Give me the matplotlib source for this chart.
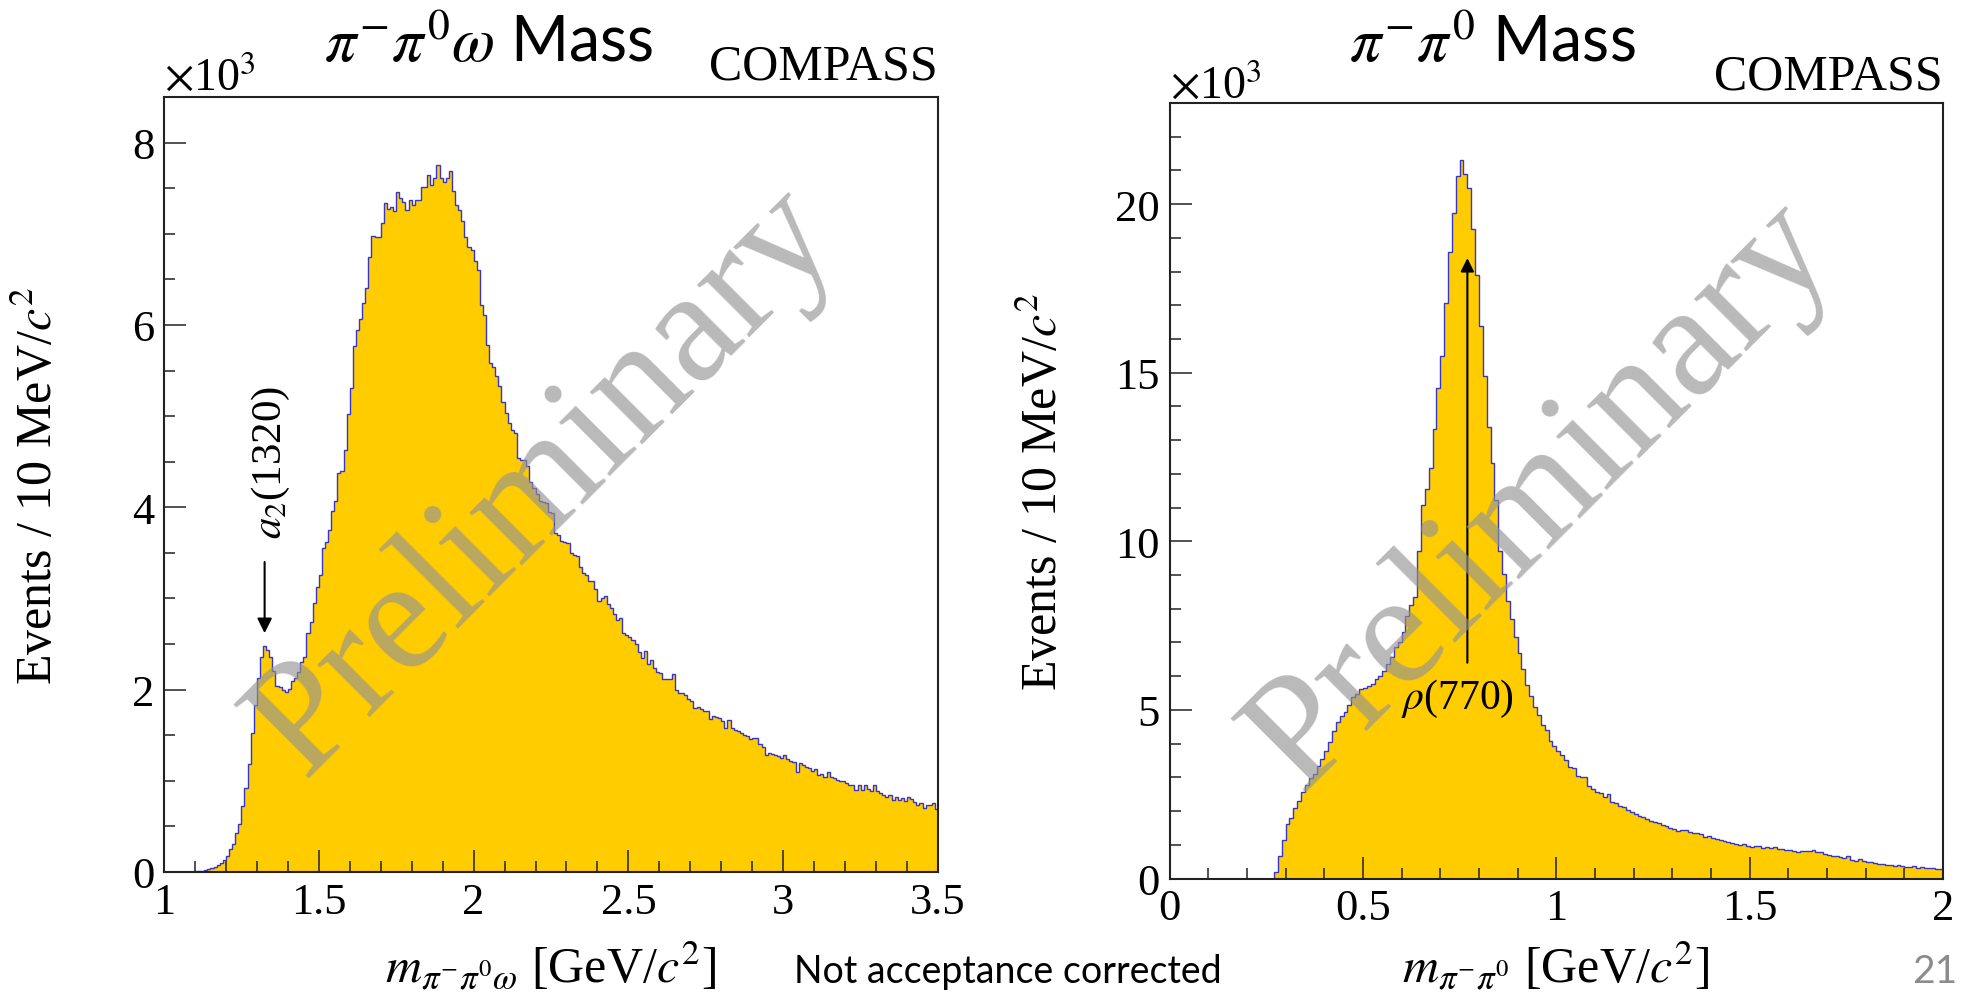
import numpy as np
import matplotlib
matplotlib.use("Agg")
import matplotlib.pyplot as plt
from matplotlib.ticker import MultipleLocator, FuncFormatter

plt.rcParams['mathtext.fontset'] = 'stix'
plt.rcParams['font.family'] = ['Liberation Serif', 'DejaVu Serif']

# ---------------- data: events per 10 MeV bin, in units of 10^3 ----------------
# pi- pi0 omega invariant mass, bins from 1.00 to 3.50 GeV
omega_edges_lo = 1.0
omega_edges_hi = 3.5
omega_counts = [
    0, 0, 0, 0, 0, 0, 0, 0, 0.002, 0.003,
    0.006, 0.01, 0.015, 0.02, 0.03, 0.04, 0.06, 0.08, 0.10, 0.13,
    0.18, 0.25, 0.31, 0.43, 0.53, 0.72, 0.92, 1.19, 1.52, 1.83,
    2.13, 2.36, 2.48, 2.44, 2.36, 2.20, 2.04, 2.03, 2.00, 1.97,
    2.01, 2.09, 2.13, 2.19, 2.30, 2.36, 2.62, 2.74, 2.95, 3.13,
    3.26, 3.55, 3.62, 3.75, 3.96, 4.07, 4.38, 4.40, 4.63, 5.02,
    5.31, 5.77, 5.95, 6.06, 6.24, 6.41, 6.75, 6.98, 6.97, 6.97,
    7.12, 7.34, 7.27, 7.29, 7.25, 7.46, 7.39, 7.35, 7.26, 7.37,
    7.32, 7.37, 7.37, 7.51, 7.51, 7.65, 7.54, 7.61, 7.75, 7.61,
    7.57, 7.61, 7.69, 7.47, 7.32, 7.26, 7.14, 6.96, 6.86, 6.82,
    6.70, 6.60, 6.22, 6.11, 5.78, 5.58, 5.54, 5.44, 5.33, 5.16,
    5.03, 4.93, 4.85, 4.82, 4.54, 4.52, 4.52, 4.45, 4.28, 4.21,
    4.15, 4.07, 4.06, 4.05, 3.95, 3.94, 3.72, 3.70, 3.63, 3.62,
    3.61, 3.50, 3.48, 3.47, 3.34, 3.28, 3.26, 3.19, 3.19, 3.10,
    2.97, 3.01, 3.03, 2.94, 2.90, 2.83, 2.76, 2.79, 2.62, 2.60,
    2.58, 2.55, 2.50, 2.41, 2.35, 2.42, 2.28, 2.33, 2.24, 2.19,
    2.18, 2.12, 2.12, 2.12, 2.17, 2.00, 1.96, 1.96, 1.94, 1.90,
    1.88, 1.80, 1.81, 1.79, 1.77, 1.77, 1.68, 1.71, 1.70, 1.69,
    1.66, 1.58, 1.67, 1.58, 1.56, 1.55, 1.53, 1.50, 1.49, 1.46,
    1.47, 1.47, 1.40, 1.37, 1.28, 1.31, 1.29, 1.28, 1.27, 1.25,
    1.28, 1.24, 1.22, 1.21, 1.10, 1.20, 1.17, 1.15, 1.14, 1.11,
    1.13, 1.06, 1.08, 1.04, 1.10, 1.04, 1.03, 1.01, 1.00, 1.00,
    0.98, 0.95, 0.95, 0.90, 0.95, 0.90, 0.95, 0.91, 0.89, 0.95,
    0.89, 0.87, 0.84, 0.82, 0.85, 0.79, 0.82, 0.79, 0.81, 0.78,
    0.82, 0.80, 0.77, 0.74, 0.76, 0.70, 0.73, 0.74, 0.76, 0.69,
]

# pi- pi0 invariant mass, bins from 0.00 to 2.00 GeV
pipi_edges_lo = 0.0
pipi_edges_hi = 2.0
pipi_counts = [
    0, 0, 0, 0, 0, 0, 0, 0, 0, 0,
    0, 0, 0, 0, 0, 0, 0, 0, 0, 0,
    0, 0, 0, 0, 0, 0, 0, 0.20, 0.68, 1.15,
    1.62, 1.79, 2.08, 2.31, 2.56, 2.77, 2.97, 3.10, 3.33, 3.55,
    3.79, 4.04, 4.36, 4.63, 4.81, 4.95, 5.15, 5.37, 5.47, 5.62,
    5.64, 5.72, 5.77, 5.92, 6.02, 6.16, 6.36, 6.56, 6.86, 7.00,
    7.30, 7.80, 8.10, 8.36, 9.72, 11.08, 11.56, 12.17, 13.33, 14.56,
    15.51, 17.08, 18.58, 19.74, 20.83, 21.31, 20.90, 20.49, 19.26, 17.90,
    16.40, 14.90, 13.40, 12.31, 11.22, 9.72, 9.04, 8.22, 7.70, 7.15,
    6.70, 6.20, 5.75, 5.40, 5.08, 4.84, 4.56, 4.39, 4.09, 3.94,
    3.79, 3.66, 3.50, 3.30, 3.27, 3.05, 3.00, 3.00, 2.73, 2.64,
    2.58, 2.54, 2.41, 2.51, 2.28, 2.24, 2.16, 2.11, 2.04, 1.98,
    1.91, 1.84, 1.81, 1.76, 1.72, 1.69, 1.65, 1.59, 1.55, 1.49,
    1.47, 1.42, 1.45, 1.45, 1.37, 1.35, 1.35, 1.32, 1.22, 1.27,
    1.19, 1.17, 1.15, 1.12, 1.09, 1.05, 1.02, 0.99, 1.02, 0.97,
    0.92, 0.97, 0.95, 0.91, 0.94, 0.89, 0.92, 0.88, 0.88, 0.86,
    0.86, 0.83, 0.78, 0.81, 0.83, 0.83, 0.86, 0.80, 0.80, 0.73,
    0.70, 0.68, 0.66, 0.63, 0.60, 0.66, 0.56, 0.53, 0.58, 0.53,
    0.50, 0.48, 0.46, 0.43, 0.42, 0.40, 0.41, 0.38, 0.40, 0.36,
    0.35, 0.33, 0.36, 0.30, 0.33, 0.32, 0.30, 0.30, 0.28, 0.28,
]

omega_xticks = [1, 1.5, 2, 2.5, 3, 3.5]
omega_yticks = [0, 2, 4, 6, 8]
pipi_xticks = [0, 0.5, 1, 1.5, 2]
pipi_yticks = [0, 5, 10, 15, 20]

# resonance markers: (position in GeV, arrow start, arrow end) in 10^3 events
a2_mark = (1.325, 3.40, 2.62)
rho_mark = (0.770, 6.40, 18.4)

FILL = '#ffcc00'
EDGE = '#3535c8'
W, H = 1975, 1004

fig = plt.figure(figsize=(W / 100, H / 100), dpi=100)
fig.patch.set_facecolor('white')


def px_axes(l, t, r, b):
    return fig.add_axes([l / W, (H - b) / H, (r - l) / W, (b - t) / H])


def style_axes(ax, xlim, ylim, xticks, yticks, xminor, yminor):
    ax.set_xlim(*xlim)
    ax.set_ylim(*ylim)
    ax.set_xticks(xticks)
    ax.set_yticks(yticks)
    ax.xaxis.set_minor_locator(MultipleLocator(xminor))
    ax.yaxis.set_minor_locator(MultipleLocator(yminor))
    fmt = FuncFormatter(lambda v, _: f'{v:g}')
    ax.xaxis.set_major_formatter(fmt)
    ax.yaxis.set_major_formatter(fmt)
    ax.tick_params(which='both', direction='in', top=False, right=False,
                   width=1.1, color='#222222')
    ax.tick_params(which='major', length=16, labelsize=32, pad=7)
    ax.tick_params(which='minor', length=8)
    for lab in ax.get_xticklabels() + ax.get_yticklabels():
        lab.set_family('Liberation Serif')
    for sp in ax.spines.values():
        sp.set_linewidth(1.5)
        sp.set_color('#222222')
        sp.set_zorder(5)


def draw_hist(ax, counts, lo, hi):
    edges = np.linspace(lo, hi, len(counts) + 1)
    ax.stairs(counts, edges, fill=True, color=FILL, zorder=1)
    ax.stairs(counts, edges, color=EDGE, lw=1.0, zorder=2)


# ---------------- left panel ----------------
ax1 = px_axes(164, 98, 938, 873)
draw_hist(ax1, omega_counts, omega_edges_lo, omega_edges_hi)
style_axes(ax1, (omega_edges_lo, omega_edges_hi), (0, 8.5),
           omega_xticks, omega_yticks, 0.1, 0.5)

x, y0, y1 = a2_mark
ax1.annotate('', xy=(x, y1), xytext=(x, y0),
             arrowprops=dict(arrowstyle='-|>', color='black', lw=1.5,
                             mutation_scale=22, shrinkA=0, shrinkB=0), zorder=4)
ax1.text(1.345, 4.50, r'$a_{2}$(1320)', rotation=90, ha='center', va='center',
         fontsize=31, family='Liberation Serif', zorder=4)

# ---------------- right panel ----------------
ax2 = px_axes(1169.6, 104, 1943, 879.5)
draw_hist(ax2, pipi_counts, pipi_edges_lo, pipi_edges_hi)
style_axes(ax2, (pipi_edges_lo, pipi_edges_hi), (0, 23.0),
           pipi_xticks, pipi_yticks, 0.1, 1)

x, y0, y1 = rho_mark
ax2.annotate('', xy=(x, y1), xytext=(x, y0),
             arrowprops=dict(arrowstyle='-|>', color='black', lw=1.5,
                             mutation_scale=20, shrinkA=0, shrinkB=0), zorder=4)
ax2.text(0.744, 5.35, r'$\rho$(770)', ha='center', va='center',
         fontsize=30, family='Liberation Serif', zorder=4)

# ---------------- watermarks ----------------
for cx, cy in [(545, 482), (1542, 496)]:
    fig.text(cx / W, (H - cy) / H, 'Preliminary', rotation=45,
             ha='center', va='center', rotation_mode='anchor',
             fontsize=116, family='Liberation Serif',
             color=(0.58, 0.58, 0.58), alpha=0.65, zorder=10)

# ---------------- titles and labels ----------------
for cx, by, txt in [(489, 62, r'$\pi^{-}\pi^{0}\omega$ Mass'),
                    (1492, 62, r'$\pi^{-}\pi^{0}$ Mass')]:
    fig.text(cx / W, (H - by) / H, txt, ha='center', va='baseline',
             fontsize=45, family='Lato')

for rx, by in [(938, 80), (1943, 90)]:
    fig.text(rx / W, (H - by) / H, 'COMPASS', ha='right', va='baseline',
             fontsize=36, family='Liberation Serif')

for lx, by in [(164, 90), (1170, 98)]:
    fig.text(lx / W, (H - by) / H, r'$\times$10$^{3}$', ha='left',
             va='baseline', fontsize=33, family='Liberation Serif')

for cx, cy in [(40, 486), (1045, 492)]:
    fig.text(cx / W, (H - cy) / H, r'Events / 10 MeV/$c^{2}$', rotation=90,
             ha='center', va='center', fontsize=36, family='Liberation Serif')

for cx, txt in [(551, r'$m_{\pi^{-}\pi^{0}\omega}$ [GeV/$c^{2}$]'),
                (1556, r'$m_{\pi^{-}\pi^{0}}$ [GeV/$c^{2}$]')]:
    fig.text(cx / W, (H - 983) / H, txt, ha='center', va='baseline',
             fontsize=36, family='Liberation Serif')

fig.text(1008 / W, (H - 983) / H, 'Not acceptance corrected', ha='center',
         va='baseline', fontsize=27, family='Lato')
fig.text(1935 / W, (H - 983) / H, '21', ha='center', va='baseline',
         fontsize=28, family='Lato', color='#8c8c8c')

fig.savefig('out.png', dpi=100, facecolor='white')
